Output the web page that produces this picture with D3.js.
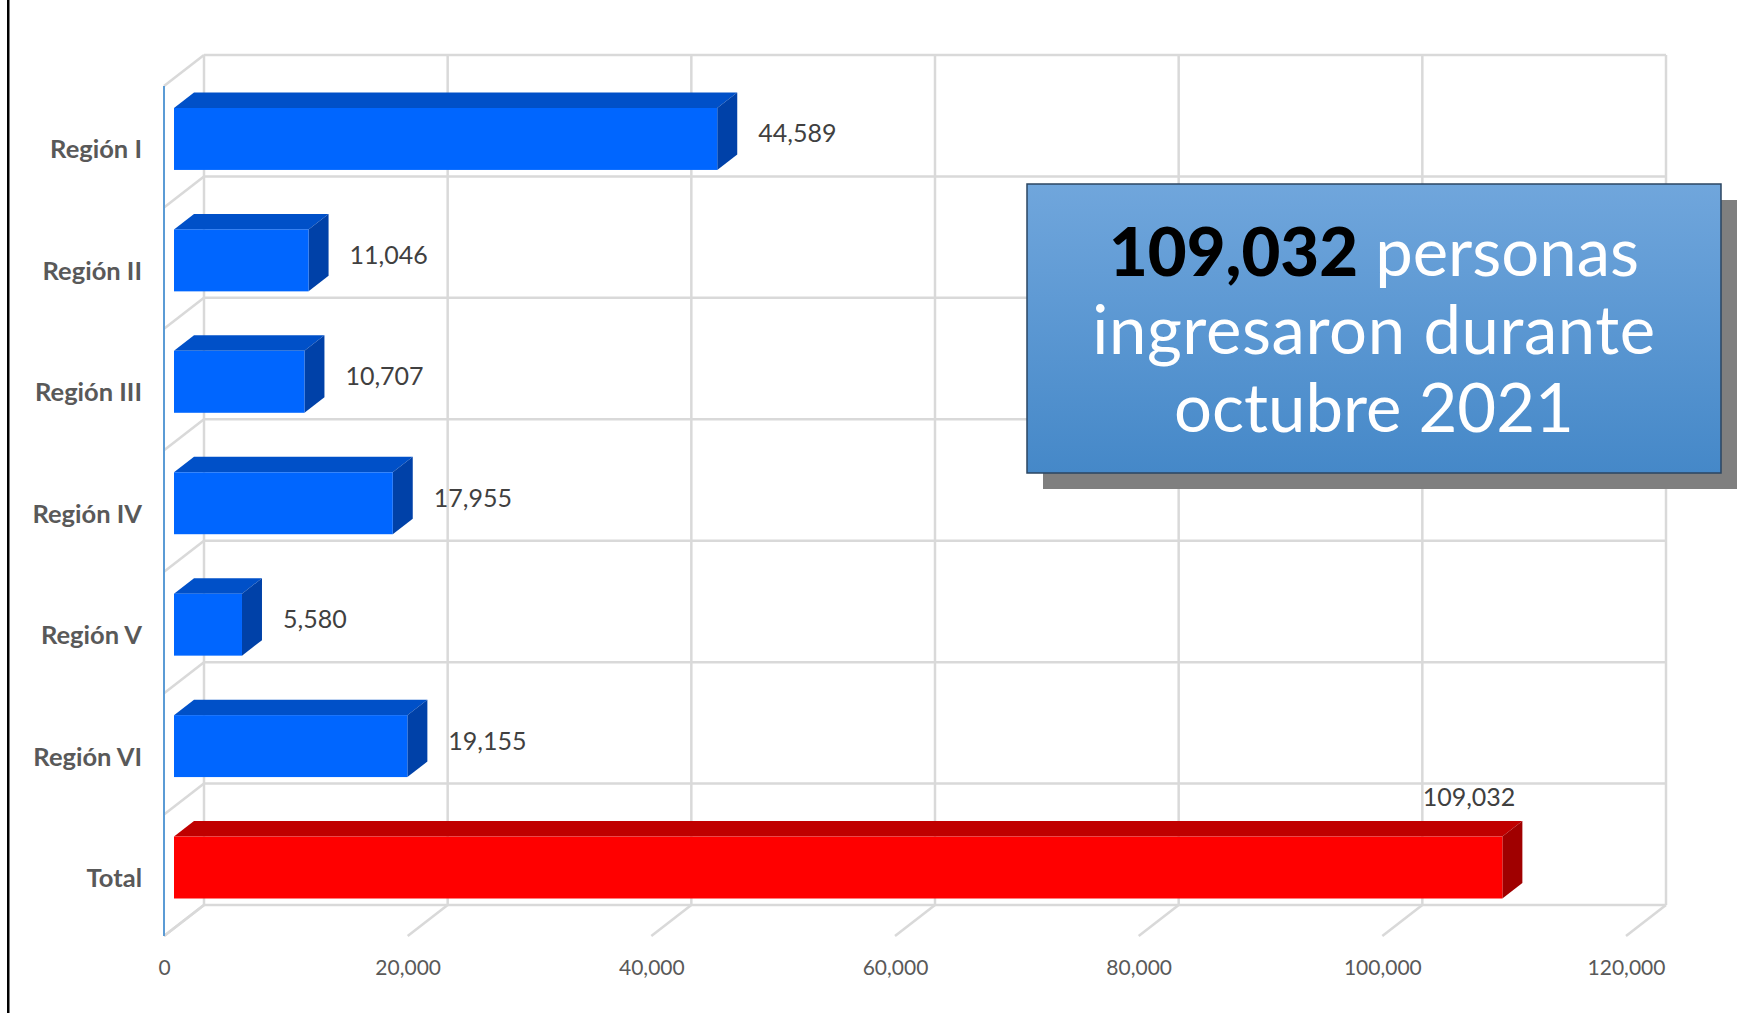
<!DOCTYPE html>
<html>
<head>
<meta charset="utf-8">
<script src="https://cdn.jsdelivr.net/npm/d3@7"></script>
<style>
  html, body { margin: 0; padding: 0; background: #fff; }
  .container { width: 1737px; height: 1013px; overflow: hidden; }
  .grid { stroke: #d9d9d9; stroke-width: 2.5; fill: none; }
  .axisLine { stroke: #5b9bd5; stroke-width: 2; }
  .catAxis text { font-family: Lato, sans-serif; font-weight: 700; font-size: 25.5px; fill: #595959; }
  .valAxis text { font-family: Lato, sans-serif; font-size: 21px; fill: #595959; }
  .valueLabel { font-family: Lato, sans-serif; font-size: 25px; fill: #404040; }
  .callout text { font-family: Lato, sans-serif; font-size: 67px; fill: #fff; }
</style>
</head>
<body>
<div class="container"></div>
<script>
const WIDTH = 1737;
const HEIGHT = 1013;

// plot front plane and the depth offset of the 3d box
const FRONT_LEFT = 164;
const FRONT_RIGHT = 1626;
const FRONT_TOP = 86;
const FRONT_BOTTOM = 936;
const DEPTH_X = 40;
const DEPTH_Y = -31;

var categories = ['Región I', 'Región II', 'Región III', 'Región IV', 'Región V', 'Región VI', 'Total'];
var values = [44589, 11046, 10707, 17955, 5580, 19155, 109032];
var xTicks = [0, 20000, 40000, 60000, 80000, 100000, 120000];

var calloutNumber = '109,032';
var calloutLines = [' personas', 'ingresaron durante', 'octubre 2021'];

var translate = function(x, y){
  return 'translate('+x+','+y+')';
};

var faceColors = function (category) {
  if (category === 'Total') return {front: '#ff0000', top: '#c00000', side: '#a00000'};
  return {front: '#0066ff', top: '#0050c8', side: '#0041a8'};
};

var createChart = function () {
  var svg = d3.select('.container').append('svg')
    .attr('width', WIDTH)
    .attr('height', HEIGHT);

  var xScale = d3.scaleLinear()
    .domain([0, 120000])
    .range([FRONT_LEFT, FRONT_RIGHT]);

  var yScale = d3.scaleBand()
    .domain(categories)
    .range([FRONT_TOP, FRONT_BOTTOM])
    .paddingInner(0.49)
    .paddingOuter(0.245);

  var step = yScale.step();
  var bw = yScale.bandwidth();
  var bounds = d3.range(categories.length + 1).map(function(i){ return FRONT_TOP + i * step; });

  // left border of the slide
  svg.append('rect').attr('x', 7).attr('y', 0).attr('width', 2.5).attr('height', HEIGHT).attr('fill', '#000');

  var grid = svg.append('g').classed('gridLayer', true);

  // back wall horizontals
  grid.selectAll('line.backH').data(bounds).enter().append('line')
    .classed('grid', true)
    .attr('x1', xScale(0) + DEPTH_X).attr('x2', xScale(120000) + DEPTH_X)
    .attr('y1', function(d){ return d + DEPTH_Y; })
    .attr('y2', function(d){ return d + DEPTH_Y; });

  // back wall verticals
  grid.selectAll('line.backV').data(xTicks).enter().append('line')
    .classed('grid', true)
    .attr('x1', function(d){ return xScale(d) + DEPTH_X; })
    .attr('x2', function(d){ return xScale(d) + DEPTH_X; })
    .attr('y1', FRONT_TOP + DEPTH_Y).attr('y2', FRONT_BOTTOM + DEPTH_Y);

  // floor diagonals
  grid.selectAll('line.floor').data(xTicks).enter().append('line')
    .classed('grid', true)
    .attr('x1', function(d){ return xScale(d); })
    .attr('x2', function(d){ return xScale(d) + DEPTH_X; })
    .attr('y1', FRONT_BOTTOM).attr('y2', FRONT_BOTTOM + DEPTH_Y);

  // side wall diagonals
  grid.selectAll('line.side').data(bounds).enter().append('line')
    .classed('grid', true)
    .attr('x1', xScale(0)).attr('x2', xScale(0) + DEPTH_X)
    .attr('y1', function(d){ return d; })
    .attr('y2', function(d){ return d + DEPTH_Y; });

  svg.append('line').classed('axisLine', true)
    .attr('x1', xScale(0)).attr('x2', xScale(0))
    .attr('y1', FRONT_TOP).attr('y2', FRONT_BOTTOM);

  // bars: front face sits at 1/4 depth, back at 3/4
  var dx0 = DEPTH_X * 0.25, dy0 = DEPTH_Y * 0.25;
  var dx = DEPTH_X * 0.5, dy = DEPTH_Y * 0.5;
  var rows = categories.map(function(c, i){ return {c: c, v: values[i]}; });

  var bars = svg.append('g').selectAll('g.bar').data(rows).enter().append('g').classed('bar', true);

  bars.append('polygon')
    .attr('fill', function(d){ return faceColors(d.c).top; })
    .attr('points', function(d){
      var x0 = xScale(0) + dx0, y0 = yScale(d.c) + dy0, x1 = xScale(d.v) + dx0;
      return [[x0, y0], [x1, y0], [x1 + dx, y0 + dy], [x0 + dx, y0 + dy]].join(' ');
    });

  bars.append('polygon')
    .attr('fill', function(d){ return faceColors(d.c).side; })
    .attr('points', function(d){
      var y0 = yScale(d.c) + dy0, x1 = xScale(d.v) + dx0;
      return [[x1, y0], [x1 + dx, y0 + dy], [x1 + dx, y0 + bw + dy], [x1, y0 + bw]].join(' ');
    });

  bars.append('rect')
    .attr('fill', function(d){ return faceColors(d.c).front; })
    .attr('x', xScale(0) + dx0)
    .attr('y', function(d){ return yScale(d.c) + dy0; })
    .attr('width', function(d){ return xScale(d.v) - xScale(0); })
    .attr('height', bw);

  // value labels, moved above the bar when they run past the plot
  var fmt = d3.format(',');
  bars.append('text').classed('valueLabel', true)
    .attr('x', function(d){ return xScale(d.v) + 51; })
    .attr('y', function(d){ return yScale(d.c) + bw / 2 + DEPTH_Y / 2 + 2.5; })
    .attr('dy', '0.35em')
    .text(function(d){ return fmt(d.v); })
    .each(function(d){
      var t = d3.select(this);
      if (xScale(d.v) + 51 + this.getComputedTextLength() > FRONT_RIGHT) {
        t.attr('x', xScale(d.v) + 23)
          .attr('text-anchor', 'end')
          .attr('y', yScale(d.c) + DEPTH_Y * 0.75 - 24);
      }
    });

  var yAxis = d3.axisLeft(yScale).tickSize(0).tickPadding(0);
  svg.append('g').classed('catAxis', true)
    .attr('transform', translate(142, 3.5))
    .call(yAxis)
    .call(function(g){ g.select('.domain').remove(); });

  var xAxis = d3.axisBottom(xScale).tickValues(xTicks).tickSize(0).tickPadding(24);
  svg.append('g').classed('valAxis', true)
    .attr('transform', translate(0, FRONT_BOTTOM))
    .call(xAxis)
    .call(function(g){ g.select('.domain').remove(); });

  drawCallout(svg);
};

var drawCallout = function (svg) {
  var bx = 1027, by = 184, bwid = 694, bht = 289;

  var grad = svg.append('defs').append('linearGradient')
    .attr('id', 'boxGrad').attr('x1', 0).attr('y1', 0).attr('x2', 0).attr('y2', 1);
  grad.append('stop').attr('offset', '0%').attr('stop-color', '#70a6dc');
  grad.append('stop').attr('offset', '100%').attr('stop-color', '#4588c8');

  var g = svg.append('g').classed('callout', true);
  g.append('rect').attr('x', bx + 16).attr('y', by + 16).attr('width', bwid).attr('height', bht)
    .attr('fill', '#7f7f7f');
  g.append('rect').attr('x', bx).attr('y', by).attr('width', bwid).attr('height', bht)
    .attr('fill', 'url(#boxGrad)').attr('stroke', '#2b4561').attr('stroke-width', 1.5);

  var cx = bx + bwid / 2;
  var first = g.append('text').attr('x', cx).attr('y', 276).attr('text-anchor', 'middle');
  first.append('tspan').attr('font-weight', 900).attr('fill', '#000').text(calloutNumber);
  first.append('tspan').text(calloutLines[0]);

  g.append('text').attr('x', cx).attr('y', 354).attr('text-anchor', 'middle')
    .attr('letter-spacing', '0.6px').text(calloutLines[1]);
  g.append('text').attr('x', cx).attr('y', 432).attr('text-anchor', 'middle').text(calloutLines[2]);
};

window.onload = createChart;
</script>
</body>
</html>
